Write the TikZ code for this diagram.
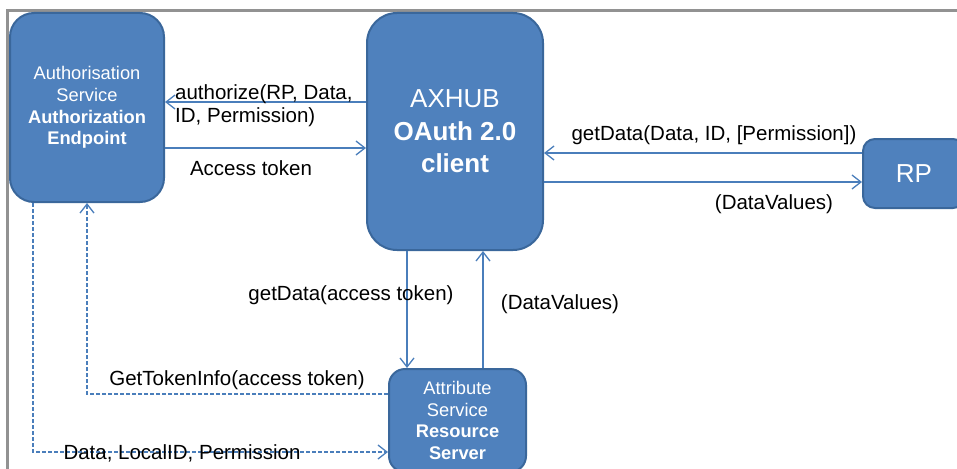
\documentclass[tikz,border=0pt]{standalone}
\usepackage{fontspec}
\setmainfont{Liberation Sans}
\usetikzlibrary{arrows.meta}
\definecolor{boxfill}{HTML}{4F81BD}
\definecolor{boxedge}{HTML}{3A679B}
\definecolor{wire}{HTML}{4A7EBB}
\definecolor{framegray}{HTML}{929292}

\begin{document}
\begin{tikzpicture}[x=1pt,y=-1pt,
  svc/.style={draw=boxedge, line width=2pt, fill=boxfill, text=white,
    align=center, inner sep=0pt, font=\fontsize{18.3}{21.7}\selectfont},
  bigsvc/.style={svc, font=\fontsize{26}{32.5}\selectfont},
  flow/.style={wire, line width=1.3pt,
    -{Straight Barb[length=9pt,width=14pt]}},
  flowdash/.style={flow, dash pattern=on 4pt off 2pt},
  lbl/.style={inner sep=0pt, text height=14.8pt, text depth=0pt,
    font=\fontsize{20.5}{24}\selectfont}]
  \useasboundingbox (0,0) rectangle (957,468);
  \clip (0,0) rectangle (957,468);

  % page frame
  \draw[framegray, line width=3pt] (7,470) -- (7,10.5) -- (960,10.5);

  % services
  \node[svc, rounded corners=24pt, minimum width=154pt, minimum height=189pt]
    (auth) at (87,107.5)
    {Authorisation\\Service\\\textbf{Authorization}\\\textbf{Endpoint}};
  \node[bigsvc, rounded corners=30pt, minimum width=176pt, minimum height=237pt]
    (axhub) at (455,131.5) {AXHUB\\\textbf{OAuth 2.0}\\\textbf{client}};
  \node[bigsvc, rounded corners=12pt, minimum width=102pt, minimum height=69pt]
    (rp) at (914,173.5) {RP};
  \node[svc, rounded corners=16pt, minimum width=137pt, minimum height=103pt]
    (res) at (457.5,420.5)
    {Attribute\\Service\\\textbf{Resource}\\\textbf{Server}};

  % connector rows and columns
  \coordinate (ya) at (0,102);
  \coordinate (yb) at (0,148);
  \coordinate (yc) at (0,153);
  \coordinate (yd) at (0,182);
  \coordinate (xa) at (407,0);
  \coordinate (xb) at (483,0);
  \coordinate (ye) at (0,394);
  \coordinate (xf) at (87,0);
  \coordinate (xg) at (33,0);
  \coordinate (yg) at (0,452);

  % messages
  \draw[flow] (axhub.west |- ya) -- (auth.east |- ya);
  \draw[flow] (auth.east |- yb) -- (axhub.west |- yb);
  \draw[flow] (rp.west |- yc) -- (axhub.east |- yc);
  \draw[flow] (axhub.east |- yd) -- (rp.west |- yd);
  \draw[flow] (axhub.south -| xa) -- (res.north -| xa);
  \draw[flow] (res.north -| xb) -- (axhub.south -| xb);
  \draw[flowdash] (res.west |- ye) -| (auth.south -| xf);
  \draw[flowdash] (auth.south -| xg) |- (res.west |- yg);

  % message labels
  \node[lbl, anchor=west] (l1) at (175,92) {authorize(RP, Data,};
  \node[lbl, anchor=west] (l2) at (175,115) {ID, Permission)};
  \node[lbl] (l3) at (251,168) {Access token};
  \node[lbl] (l4) at (714,133) {getData(Data, ID, [Permission])};
  \node[lbl] (l5) at (774,202) {(DataValues)};
  \node[lbl] (l6) at (351,293) {getData(access token)};
  \node[lbl] (l7) at (560,302) {(DataValues)};
  \node[lbl] (l8) at (237,378) {GetTokenInfo(access token)};
  \node[lbl] (l9) at (182,452) {Data, LocalID, Permission};
\end{tikzpicture}
\end{document}
